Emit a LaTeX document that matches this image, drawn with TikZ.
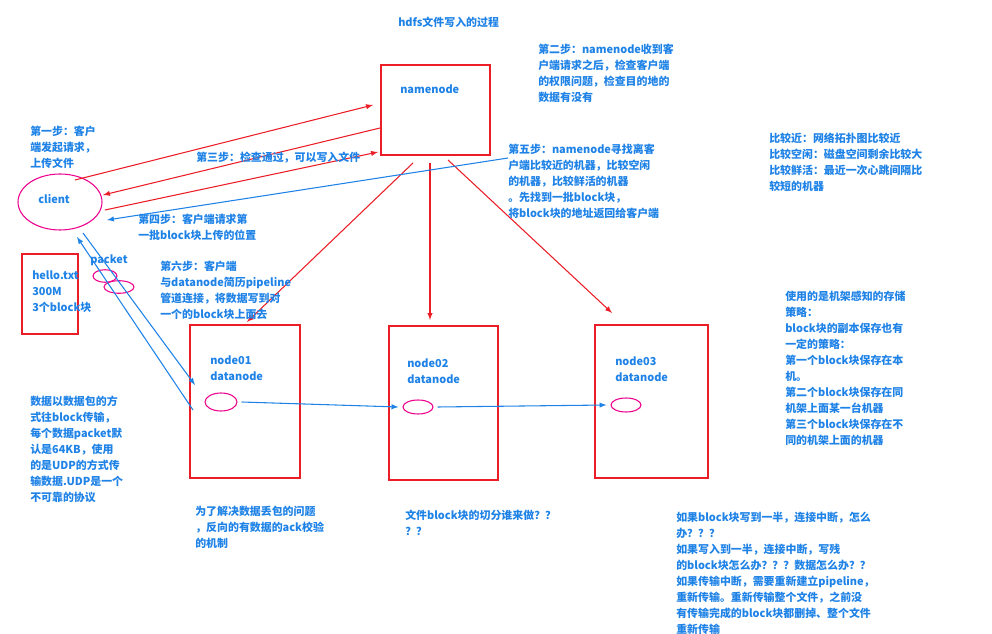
\documentclass[tikz,border=0pt]{standalone}
\usepackage{fontspec}
\setmainfont{Noto Sans CJK SC}
\usetikzlibrary{arrows,positioning}
\definecolor{noteblue}{RGB}{30,130,230}
\definecolor{boxred}{RGB}{235,30,40}
\tikzset{%
    txt/.style={%
        anchor=north west, align=left, text=noteblue, font=\bfseries\fontsize{8.2}{12}\selectfont, inner sep=0pt
    },
    serverbox/.style={%
        draw=boxred, thick, rectangle
    },
    blk/.style={%
        draw=magenta, thick, ellipse
    },
    req/.style={%
        ->, >=latex, boxred, thick
    },
    dat/.style={%
        ->, >=latex, noteblue, thick
    },
}
\usetikzlibrary{shapes.geometric}
\begin{document}
\begin{tikzpicture}[x=0.75pt,y=-0.75pt]
  \useasboundingbox (0,0) rectangle (992,634);
  \node[txt] (title) at (398,17) {hdfs文件写入的过程};

  % servers
  \draw[serverbox] (381,65) rectangle (490,155);
  \node[txt] (nn) at (400,85) {namenode};
  \draw[serverbox] (190,325) rectangle (300,478);
  \draw[serverbox] (389,326) rectangle (498,480);
  \draw[serverbox] (595,325) rectangle (708,478);
  \draw[serverbox] (22,254) rectangle (78,334);
  \node[txt] (file) at (32,270) {hello.txt\\300M\\3个block块};
  \node[txt] (dn1) at (210,355) {node01\\datanode};
  \node[txt] (dn2) at (407,358) {node02\\datanode};
  \node[txt] (dn3) at (615,356) {node03\\datanode};

  % blocks
  \node[blk, minimum width=84pt*0.75, minimum height=56pt*0.75] (client) at (60,202) {};
  \node[txt] (cl) at (38,194) {client};
  \node[blk, minimum width=24pt, minimum height=13.5pt] (b1) at (221,402) {};
  \node[blk, minimum width=22.5pt, minimum height=10.5pt] (b2) at (418,407) {};
  \node[blk, minimum width=22.5pt, minimum height=10.5pt] (b3) at (626,405) {};
  \node[blk, minimum width=18pt, minimum height=7.5pt] (p1) at (105,276) {};
  \node[blk, minimum width=22.5pt, minimum height=7.5pt] (p2) at (119,287) {};
  \node[txt] (pk) at (90,254) {packet};

  % requests
  \coordinate (c1) at (75,180);  \coordinate (n1) at (373,105);
  \coordinate (n2) at (380,128); \coordinate (c2) at (103,195);
  \coordinate (c3) at (105,210); \coordinate (n3) at (378,152);
  \draw[req] (c1) -- (n1);
  \draw[req] (n2) -- (c2);
  \draw[req] (c3) -- (n3);
  \coordinate (s1) at (413,163); \coordinate (t1) at (247,322);
  \coordinate (s2) at (430,163); \coordinate (t2) at (430,320);
  \coordinate (s3) at (448,160); \coordinate (t3) at (612,313);
  \draw[req] (s1) -- (t1);
  \draw[req] (s2) -- (t2);
  \draw[req] (s3) -- (t3);

  % data flow
  \coordinate (r5) at (508,158); \coordinate (c4) at (107,220);
  \draw[dat] (r5) -- (c4);
  \coordinate (c5) at (83,233); \coordinate (d1) at (195,385);
  \coordinate (d2) at (193,410); \coordinate (c6) at (77,237);
  \draw[dat] (c5) -- (d1);
  \draw[dat] (d2) -- (c6);
  \draw[dat] (b1.east) ++(4,0) -- ([xshift=-3pt]b2.west);
  \draw[dat] (b2.east) ++(4,0) -- ([xshift=-3pt]b3.west);

  % notes
  \node[txt] (st1) at (30,126) {第一步：客户\\端发起请求，\\上传文件};
  \node[txt] (st2) at (538,44) {第二步：namenode收到客\\户端请求之后，检查客户端\\的权限问题，检查目的地的\\数据有没有};
  \node[txt] (st3) at (196,152) {第三步：检查通过，可以写入文件};
  \node[txt] (st4) at (138,214) {第四步：客户端请求第\\一批block块上传的位置};
  \node[txt] (st5) at (508,144) {第五步：namenode寻找离客\\户端比较近的机器，比较空闲\\的机器，比较鲜活的机器\\。先找到一批block块，\\将block块的地址返回给客户端};
  \node[txt] (cmp) at (769,133) {比较近：网络拓扑图比较近\\比较空闲：磁盘空间剩余比较大\\比较鲜活：最近一次心跳间隔比\\较短的机器};
  \node[txt] (st6) at (160,261) {第六步：客户端\\与datanode简历pipeline\\管道连接，将数据写到对\\一个的block块上面去};
  \node[txt] (pkt) at (30,396) {数据以数据包的方\\式往block传输，\\每个数据packet默\\认是64KB，使用\\的是UDP的方式传\\输数据.UDP是一个\\不可靠的协议};
  \node[txt] (rack) at (785,291) {使用的是机架感知的存储\\策略：\\block块的副本保存也有\\一定的策略：\\第一个block块保存在本\\机。\\第二个block块保存在同\\机架上面某一台机器\\第三个block块保存在不\\同的机架上面的机器};
  \node[txt] (ack) at (195,506) {为了解决数据丢包的问题\\，反向的有数据的ack校验\\的机制};
  \node[txt] (split) at (405,510) {文件block块的切分谁来做？？\\？？};
  \node[txt] (fail) at (676,512) {如果block块写到一半，连接中断，怎么\\办？？？\\如果写入到一半，连接中断，写残\\的block块怎么办？？？数据怎么办？？\\如果传输中断，需要重新建立pipeline，\\重新传输。重新传输整个文件，之前没\\有传输完成的block块都删掉、整个文件\\重新传输};
\end{tikzpicture}
\end{document}
